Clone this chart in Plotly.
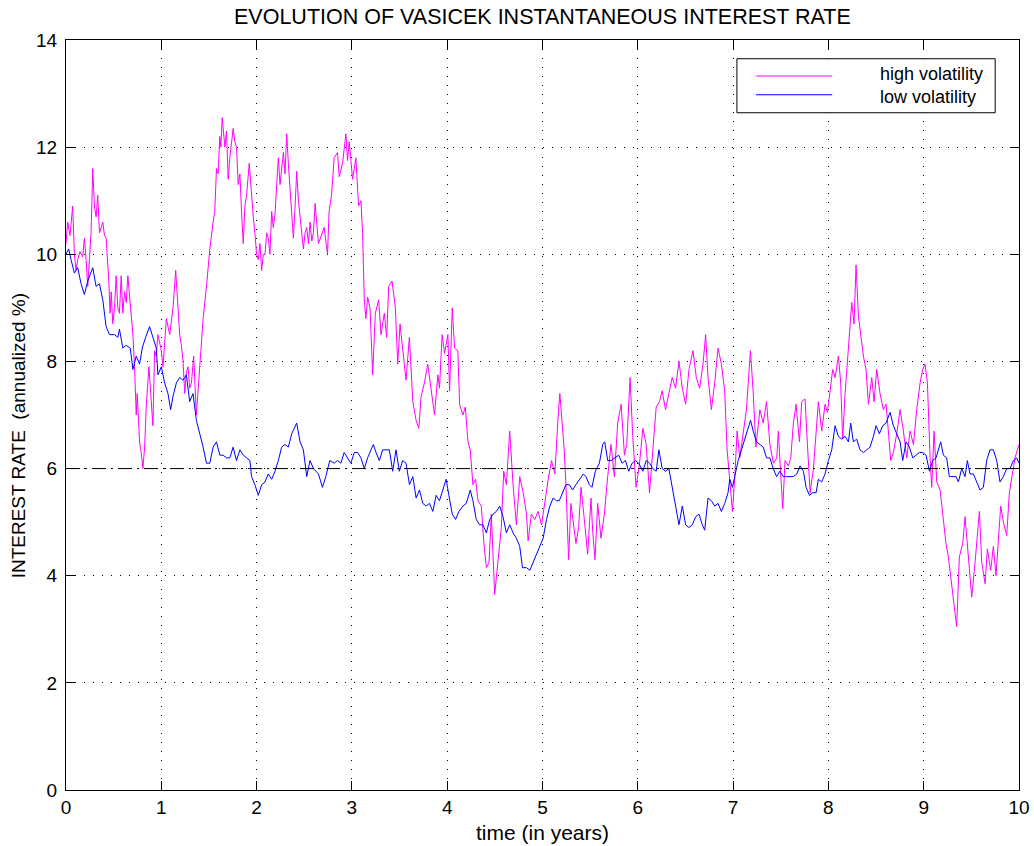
import plotly.graph_objects as go

# ---------------- data ----------------
high_t = [
    0.000, 0.018, 0.042, 0.070, 0.088, 0.105, 0.123, 0.147, 0.175, 0.193, 0.211, 0.228, 0.246, 0.263,
    0.281, 0.298, 0.316, 0.333, 0.351, 0.368, 0.386, 0.404, 0.421, 0.449, 0.463, 0.474, 0.491, 0.509,
    0.526, 0.544, 0.561, 0.579, 0.596, 0.614, 0.632, 0.649, 0.667, 0.684, 0.702, 0.719, 0.737, 0.747,
    0.772, 0.789, 0.807, 0.825, 0.842, 0.870, 0.895, 0.912, 0.930, 0.947, 0.965, 1.000, 1.018, 1.035,
    1.053, 1.088, 1.123, 1.151, 1.175, 1.193, 1.211, 1.228, 1.246, 1.263, 1.281, 1.298, 1.316, 1.340,
    1.368, 1.386, 1.404, 1.439, 1.474, 1.509, 1.544, 1.561, 1.579, 1.596, 1.614, 1.625, 1.639, 1.656,
    1.667, 1.684, 1.702, 1.719, 1.737, 1.754, 1.772, 1.789, 1.807, 1.825, 1.842, 1.860, 1.877, 1.895,
    1.923, 1.947, 1.965, 1.982, 2.000, 2.018, 2.035, 2.053, 2.070, 2.088, 2.105, 2.123, 2.140, 2.158,
    2.175, 2.193, 2.211, 2.228, 2.246, 2.263, 2.281, 2.298, 2.316, 2.333, 2.351, 2.368, 2.386, 2.404,
    2.421, 2.439, 2.456, 2.474, 2.491, 2.509, 2.526, 2.544, 2.561, 2.579, 2.596, 2.614, 2.632, 2.649,
    2.709, 2.744, 2.761, 2.786, 2.814, 2.849, 2.867, 2.902, 2.937, 2.954, 2.972, 3.007, 3.042, 3.070,
    3.095, 3.112, 3.130, 3.147, 3.165, 3.190, 3.218, 3.246, 3.281, 3.305, 3.340, 3.365, 3.386, 3.421,
    3.456, 3.481, 3.505, 3.533, 3.568, 3.603, 3.639, 3.674, 3.702, 3.726, 3.761, 3.796, 3.832, 3.867,
    3.902, 3.919, 3.947, 3.972, 4.007, 4.025, 4.053, 4.077, 4.112, 4.130, 4.165, 4.190, 4.218, 4.242,
    4.270, 4.298, 4.323, 4.358, 4.383, 4.411, 4.439, 4.463, 4.498, 4.533, 4.568, 4.593, 4.621, 4.656,
    4.691, 4.726, 4.761, 4.797, 4.832, 4.849, 4.884, 4.919, 4.954, 4.990, 5.025, 5.060, 5.095, 5.130,
    5.165, 5.182, 5.204, 5.228, 5.246, 5.274, 5.298, 5.333, 5.351, 5.379, 5.404, 5.439, 5.474, 5.509,
    5.526, 5.551, 5.579, 5.614, 5.649, 5.684, 5.719, 5.754, 5.789, 5.825, 5.860, 5.884, 5.919, 5.947,
    5.982, 6.018, 6.053, 6.088, 6.123, 6.158, 6.193, 6.228, 6.256, 6.291, 6.326, 6.361, 6.396, 6.432,
    6.467, 6.502, 6.537, 6.579, 6.614, 6.649, 6.684, 6.712, 6.737, 6.772, 6.807, 6.842, 6.877, 6.912,
    6.937, 6.965, 6.993, 7.018, 7.042, 7.070, 7.105, 7.140, 7.182, 7.210, 7.239, 7.281, 7.316, 7.351,
    7.386, 7.423, 7.458, 7.475, 7.493, 7.521, 7.545, 7.580, 7.605, 7.633, 7.661, 7.696, 7.720, 7.755,
    7.780, 7.808, 7.843, 7.871, 7.895, 7.930, 7.965, 7.990, 8.017, 8.045, 8.070, 8.105, 8.129, 8.150,
    8.175, 8.199, 8.220, 8.245, 8.269, 8.290, 8.315, 8.339, 8.367, 8.395, 8.420, 8.455, 8.479, 8.507,
    8.542, 8.577, 8.605, 8.629, 8.654, 8.682, 8.717, 8.752, 8.787, 8.822, 8.857, 8.892, 8.927, 8.962,
    8.990, 9.014, 9.039, 9.067, 9.084, 9.109, 9.137, 9.172, 9.206, 9.234, 9.259, 9.294, 9.318, 9.346,
    9.374, 9.409, 9.434, 9.469, 9.504, 9.539, 9.584, 9.609, 9.644, 9.668, 9.703, 9.731, 9.759, 9.783,
    9.808, 9.836, 9.871, 9.899, 9.923, 9.958, 10.000,
]
high_vol = [
    10.2, 10.6, 10.35, 10.9, 10.0, 9.7, 9.9, 10.05, 9.95, 10.3, 9.9, 9.4, 9.9, 10.4,
    11.6, 10.9, 10.7, 11.1, 10.4, 10.5, 10.6, 10.35, 10.3, 9.5, 8.9, 9.3, 8.7, 9.0,
    9.6, 9.0, 8.9, 9.6, 8.9, 9.3, 9.1, 9.6, 9.2, 8.8, 8.5, 7.9, 7.0, 7.4,
    6.5, 6.3, 6.0, 6.4, 7.15, 7.9, 7.3, 6.8, 8.2, 8.1, 8.5, 8.2, 7.9, 8.4,
    8.8, 8.5, 9.0, 9.7, 9.1, 8.5, 8.3, 8.0, 7.4, 7.8, 7.9, 7.5, 7.6, 8.1,
    7.0, 7.5, 7.9, 8.8, 9.4, 10.1, 10.6, 10.8, 11.6, 11.5, 12.2, 12.0, 12.55, 12.2,
    12.0, 12.3, 11.4, 11.8, 12.1, 12.35, 12.1, 12.0, 11.3, 11.5, 10.8, 10.2, 10.9, 11.1,
    11.7, 11.0, 10.7, 10.4, 10.0, 9.9, 10.2, 9.7, 10.0, 10.0, 10.4, 10.3, 10.0, 10.8,
    10.5, 10.75, 11.2, 11.8, 11.3, 11.55, 11.9, 11.5, 12.25, 11.7, 11.2, 10.8, 10.3, 10.9,
    11.55, 11.0, 10.7, 10.3, 10.1, 10.4, 10.5, 10.2, 10.6, 10.25, 10.4, 10.95, 10.5, 10.2,
    10.5, 10.0, 10.8, 11.1, 11.8, 11.9, 11.45, 11.7, 12.25, 11.75, 12.1, 11.4, 11.8, 10.9,
    11.0, 10.4, 9.15, 8.8, 9.2, 9.0, 7.75, 8.9, 9.15, 8.5, 8.9, 8.45, 9.4, 9.5,
    9.0, 7.95, 8.7, 8.25, 7.65, 8.45, 7.25, 6.9, 6.75, 7.35, 7.6, 7.95, 7.5, 7.0,
    7.75, 7.5, 8.5, 8.15, 8.5, 7.45, 9.0, 8.25, 8.2, 7.2, 7.0, 7.15, 6.5, 6.35,
    5.7, 5.8, 5.4, 5.3, 4.65, 4.15, 4.25, 5.15, 3.65, 4.25, 4.9, 5.95, 5.7, 6.7,
    5.7, 4.95, 5.85, 5.55, 5.15, 4.65, 5.15, 5.05, 5.2, 4.95, 5.4, 5.8, 6.15, 5.9,
    7.0, 7.4, 6.9, 6.35, 5.7, 4.3, 5.35, 4.85, 4.6, 4.9, 5.65, 5.05, 4.4, 5.45,
    4.85, 4.3, 5.35, 4.7, 5.15, 5.85, 6.45, 5.85, 6.85, 7.2, 6.25, 6.45, 7.7, 6.6,
    5.65, 6.1, 6.75, 6.45, 5.55, 6.35, 7.15, 7.25, 7.45, 7.1, 7.4, 7.7, 7.5, 8.0,
    7.5, 7.2, 7.85, 8.2, 7.7, 7.5, 7.95, 8.5, 7.7, 7.1, 7.6, 8.25, 7.95, 7.45,
    6.35, 5.7, 5.2, 5.85, 6.7, 6.2, 6.7, 7.1, 8.2, 7.45, 6.4, 7.1, 6.85, 7.25,
    6.45, 6.1, 6.2, 6.7, 6.1, 5.25, 6.15, 6.05, 6.2, 6.85, 7.2, 6.5, 7.25, 7.3,
    6.45, 5.55, 6.0, 6.7, 7.25, 6.7, 7.2, 7.05, 7.4, 7.85, 7.7, 8.1, 7.6, 6.55,
    7.4, 8.0, 8.4, 9.1, 8.7, 9.8, 8.85, 8.45, 8.1, 7.85, 7.2, 7.7, 7.25, 7.85,
    7.4, 7.1, 7.2, 6.7, 6.15, 6.3, 6.65, 7.1, 6.7, 6.2, 6.7, 6.45, 7.1, 7.6,
    7.85, 7.95, 7.6, 6.2, 5.65, 6.7, 5.75, 5.6, 5.1, 4.6, 4.35, 3.85, 3.45, 3.05,
    4.35, 4.6, 5.1, 4.35, 3.6, 4.25, 5.2, 4.25, 3.85, 4.5, 4.1, 4.55, 4.0, 4.65,
    5.3, 5.0, 4.75, 5.55, 5.85, 6.2, 6.45,
]

low_t = [
    0.000, 0.028, 0.053, 0.088, 0.123, 0.158, 0.193, 0.228, 0.281, 0.316, 0.351, 0.386, 0.421, 0.456,
    0.509, 0.544, 0.561, 0.596, 0.632, 0.674, 0.702, 0.737, 0.772, 0.800, 0.835, 0.877, 0.912, 0.947,
    0.965, 1.000, 1.035, 1.070, 1.098, 1.123, 1.158, 1.193, 1.228, 1.263, 1.298, 1.333, 1.368, 1.404,
    1.439, 1.474, 1.509, 1.544, 1.579, 1.614, 1.649, 1.684, 1.719, 1.754, 1.789, 1.825, 1.860, 1.895,
    1.930, 1.947, 1.982, 2.018, 2.053, 2.088, 2.123, 2.158, 2.193, 2.228, 2.263, 2.298, 2.333, 2.368,
    2.421, 2.456, 2.491, 2.526, 2.561, 2.596, 2.649, 2.691, 2.726, 2.768, 2.814, 2.849, 2.884, 2.919,
    2.954, 2.989, 3.025, 3.060, 3.095, 3.130, 3.165, 3.200, 3.225, 3.253, 3.288, 3.323, 3.358, 3.393,
    3.428, 3.463, 3.498, 3.533, 3.568, 3.604, 3.639, 3.674, 3.709, 3.744, 3.779, 3.814, 3.849, 3.884,
    3.919, 3.954, 3.989, 4.018, 4.053, 4.088, 4.123, 4.165, 4.200, 4.242, 4.270, 4.305, 4.340, 4.375,
    4.411, 4.446, 4.481, 4.516, 4.551, 4.586, 4.621, 4.656, 4.691, 4.726, 4.761, 4.790, 4.832, 4.867,
    4.902, 4.937, 4.972, 5.007, 5.042, 5.077, 5.112, 5.147, 5.176, 5.211, 5.246, 5.281, 5.316, 5.351,
    5.386, 5.428, 5.456, 5.491, 5.519, 5.554, 5.597, 5.632, 5.653, 5.684, 5.719, 5.754, 5.800, 5.835,
    5.870, 5.905, 5.940, 5.976, 6.011, 6.053, 6.088, 6.123, 6.158, 6.193, 6.221, 6.256, 6.291, 6.326,
    6.361, 6.397, 6.432, 6.467, 6.502, 6.537, 6.572, 6.607, 6.642, 6.677, 6.702, 6.737, 6.772, 6.807,
    6.842, 6.877, 6.912, 6.947, 6.965, 6.993, 7.018, 7.053, 7.088, 7.113, 7.148, 7.183, 7.211, 7.246,
    7.281, 7.316, 7.351, 7.386, 7.421, 7.456, 7.491, 7.526, 7.561, 7.598, 7.633, 7.668, 7.703, 7.738,
    7.766, 7.801, 7.836, 7.871, 7.895, 7.930, 7.965, 8.000, 8.035, 8.070, 8.105, 8.140, 8.175, 8.210,
    8.234, 8.262, 8.297, 8.332, 8.367, 8.402, 8.437, 8.472, 8.500, 8.535, 8.570, 8.605, 8.647, 8.682,
    8.717, 8.752, 8.780, 8.815, 8.850, 8.885, 8.920, 8.955, 8.990, 9.025, 9.060, 9.095, 9.130, 9.154,
    9.178, 9.206, 9.241, 9.269, 9.304, 9.339, 9.364, 9.399, 9.434, 9.458, 9.486, 9.521, 9.556, 9.591,
    9.626, 9.661, 9.696, 9.731, 9.766, 9.801, 9.836, 9.871, 9.906, 9.941, 9.976, 10.000,
]
low_vol = [
    10.0, 10.1, 9.9, 9.65, 9.75, 9.45, 9.25, 9.5, 9.75, 9.4, 9.45, 9.15, 8.65, 8.5,
    8.5, 8.45, 8.6, 8.25, 8.3, 8.25, 7.85, 8.1, 7.95, 8.25, 8.45, 8.65, 8.45, 8.25,
    7.75, 7.9, 7.6, 7.4, 7.1, 7.35, 7.6, 7.7, 7.65, 7.75, 7.25, 7.4, 6.9, 6.65,
    6.4, 6.1, 6.1, 6.4, 6.5, 6.25, 6.25, 6.2, 6.2, 6.4, 6.15, 6.35, 6.25, 6.2,
    6.15, 5.85, 5.7, 5.5, 5.7, 5.75, 5.9, 5.8, 5.95, 6.15, 6.4, 6.45, 6.4, 6.65,
    6.85, 6.5, 6.35, 5.85, 6.15, 6.0, 5.9, 5.65, 5.85, 6.15, 6.1, 6.15, 6.1, 6.3,
    6.2, 6.1, 6.3, 6.3, 6.2, 6.0, 6.2, 6.35, 6.45, 6.3, 6.15, 6.35, 6.35, 6.35,
    5.95, 6.35, 5.95, 6.15, 6.1, 5.7, 5.85, 5.45, 5.6, 5.35, 5.3, 5.35, 5.2, 5.5,
    5.4, 5.6, 5.8, 5.5, 5.15, 5.05, 5.2, 5.3, 5.35, 5.6, 5.4, 5.05, 4.95, 4.95,
    4.8, 5.05, 5.15, 5.2, 5.3, 5.1, 4.8, 4.95, 4.8, 4.7, 4.55, 4.15, 4.15, 4.1,
    4.25, 4.4, 4.55, 4.7, 5.05, 5.3, 5.45, 5.4, 5.4, 5.55, 5.7, 5.7, 5.6, 5.7,
    5.8, 5.9, 5.85, 5.7, 5.65, 5.95, 6.1, 6.45, 6.5, 6.15, 6.15, 6.2, 6.25, 6.1,
    6.15, 5.95, 6.1, 6.15, 6.1, 5.95, 6.15, 6.1, 6.0, 5.95, 6.35, 6.0, 5.95, 6.0,
    5.65, 5.3, 4.95, 5.3, 4.95, 4.9, 4.95, 5.1, 5.15, 4.95, 4.85, 5.45, 5.4, 5.3,
    5.35, 5.2, 5.35, 5.55, 5.8, 5.65, 5.85, 6.15, 6.35, 6.5, 6.7, 6.9, 6.7, 6.5,
    6.45, 6.4, 6.2, 6.2, 6.0, 5.85, 5.95, 5.85, 5.85, 5.85, 5.85, 5.9, 6.05, 5.95,
    5.65, 5.5, 5.55, 5.55, 5.8, 5.75, 5.9, 6.15, 6.35, 6.8, 6.6, 6.55, 6.6, 6.5,
    6.85, 6.5, 6.55, 6.35, 6.3, 6.35, 6.4, 6.6, 6.8, 6.65, 6.8, 6.85, 7.05, 6.8,
    6.65, 6.5, 6.15, 6.5, 6.4, 6.2, 6.25, 6.3, 6.3, 6.25, 5.95, 6.15, 6.2, 6.35,
    6.5, 6.25, 6.2, 5.85, 5.85, 5.85, 5.75, 6.0, 5.85, 6.15, 5.9, 5.9, 5.75, 5.6,
    5.65, 6.15, 6.35, 6.35, 6.15, 5.75, 5.85, 6.0, 6.0, 6.15, 6.2, 6.1,
]

long_run_t = [0, 10]
long_run_rate = [6, 6]

series_names = ["high volatility", "low volatility"]
series_colors = ["#ff00ff", "#0000ff"]
x_ticks = list(range(0, 11))
y_ticks = list(range(0, 15, 2))

FONT = "Liberation Sans, Arial, Helvetica, sans-serif"

fig = go.Figure()
fig.add_trace(go.Scatter(x=high_t, y=high_vol, mode="lines", name=series_names[0],
                         line=dict(color=series_colors[0], width=1), showlegend=False))
fig.add_trace(go.Scatter(x=low_t, y=low_vol, mode="lines", name=series_names[1],
                         line=dict(color=series_colors[1], width=1), showlegend=False))
fig.add_trace(go.Scatter(x=long_run_t, y=long_run_rate, mode="lines", name="long-run mean",
                         line=dict(color="black", width=1, dash="14px,5px,2px,5px"), showlegend=False))

axis_common = dict(
    showline=True, linecolor="black", linewidth=1, mirror="ticks",
    ticks="inside", ticklen=9, tickcolor="black", tickwidth=1,
    showgrid=True, gridcolor="black", gridwidth=1, griddash="1px,8px",
    zeroline=False, automargin=False,
    tickfont=dict(family=FONT, size=19, color="black"),
)
fig.update_xaxes(range=[0, 10], tickvals=x_ticks, **axis_common)
fig.update_yaxes(range=[0, 14], tickvals=y_ticks, ticklabelstandoff=4, **axis_common)

# custom MATLAB-style legend box
fig.add_shape(type="rect", xref="paper", yref="paper", x0=0.704, x1=0.975, y0=0.903, y1=0.975,
              line=dict(color="black", width=1), fillcolor="white", layer="above")
legend_y = [0.952, 0.927]
for color, ly in zip(series_colors, legend_y):
    fig.add_shape(type="line", xref="paper", yref="paper", x0=0.724, x1=0.804, y0=ly, y1=ly,
                  line=dict(color=color, width=1), layer="above")
fig.add_annotation(xref="paper", yref="paper", x=0.852, y=0.939,
                   text="<br>".join(series_names), showarrow=False, align="left",
                   xanchor="left", yanchor="middle",
                   font=dict(family=FONT, size=18, color="black"))

fig.add_annotation(xref="paper", yref="paper", x=0.5, y=1.031,
                   text="EVOLUTION OF VASICEK INSTANTANEOUS INTEREST RATE", showarrow=False,
                   xanchor="center", yanchor="middle", font=dict(family=FONT, size=21.5, color="black"))
fig.add_annotation(xref="paper", yref="paper", x=0.5, y=-0.056, text="time (in years)",
                   showarrow=False, xanchor="center", yanchor="middle",
                   font=dict(family=FONT, size=21, color="black"))
fig.add_annotation(xref="paper", yref="paper", x=-0.05, y=0.472, text="INTEREST RATE  (annualized %)",
                   showarrow=False, textangle=-90, xanchor="center", yanchor="middle",
                   font=dict(family=FONT, size=19, color="black"))

fig.update_layout(
    width=1034, height=846,
    margin=dict(l=66, r=15, t=40, b=56, autoexpand=False),
    paper_bgcolor="white", plot_bgcolor="white",
    showlegend=False,
)

fig.write_html("out.html")
